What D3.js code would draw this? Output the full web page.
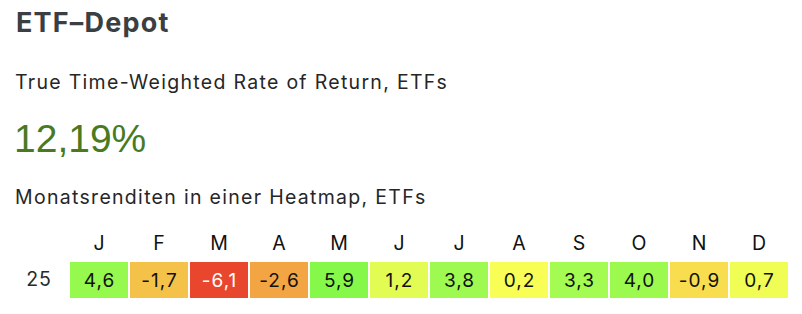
<!DOCTYPE html>
<html>
<head>
<meta charset="utf-8">
<script src="https://cdn.jsdelivr.net/npm/d3@7"></script>
<style>
  body { margin: 0; background: #fff; }
  svg { display: block; font-family: Inter, "Liberation Sans", Arial, sans-serif; }
</style>
</head>
<body>
<div id="chart"></div>
<script>
// chart data
var title = "ETF\u2013Depot"
var subtitle = "True Time-Weighted Rate of Return, ETFs"
var totalReturn = "12,19%"
var heatmapTitle = "Monatsrenditen in einer Heatmap, ETFs"
var months = ["J", "F", "M", "A", "M", "J", "J", "A", "S", "O", "N", "D"]
var years = ["25"]
var returns2025 = [4.6, -1.7, -6.1, -2.6, 5.9, 1.2, 3.8, 0.2, 3.3, 4.0, -0.9, 0.7]

/**
 * draws the whole card
 */
function drawCard() {
    var width = 802
    var height = 314

    var svg = d3.select("#chart")
        .append("svg")
        .attr("width", width)
        .attr("height", height)

    svg.append("text")
        .attr("x", 16).attr("y", 32)
        .attr("font-size", 27)
        .attr("font-weight", "bold")
        .attr("letter-spacing", 1.2)
        .attr("fill", "#3b3f43")
        .text(title)

    svg.append("text")
        .attr("x", 15).attr("y", 89)
        .attr("font-size", 19.5)
        .attr("letter-spacing", 1.3)
        .attr("fill", "#262626")
        .text(subtitle)

    svg.append("text")
        .attr("x", 14).attr("y", 152)
        .attr("font-family", "'Liberation Sans', Arial, sans-serif")
        .attr("font-size", 39)
        .attr("fill", "#4a7a1f")
        .text(totalReturn)

    svg.append("text")
        .attr("x", 15).attr("y", 204)
        .attr("font-size", 19.5)
        .attr("letter-spacing", 1.3)
        .attr("fill", "#262626")
        .text(heatmapTitle)

    // heatmap scales
    var x = d3.scaleBand()
        .domain(d3.range(months.length))
        .range([70, 788])
        .paddingInner(2 / 60)
        .paddingOuter(0)

    var y = d3.scaleBand()
        .domain(years)
        .range([262, 298])

    // red -> yellow -> green
    var color = d3.scaleLinear()
        .domain([-6, -2.5, -1.5, 0, 1, 3, 6])
        .range(["#e84a2f", "#f2a843", "#f5c94a", "#fcfe55", "#eafc54", "#a8fb52", "#84f84a"])

    var g = svg.append("g")

    g.selectAll(".month")
        .data(months)
        .enter()
        .append("text")
        .attr("class", "month")
        .attr("x", function (d, i) { return x(i) + x.bandwidth() / 2 })
        .attr("y", 250)
        .attr("text-anchor", "middle")
        .attr("font-size", 19.5)
        .attr("fill", "#111")
        .text(function (d) { return d })

    g.selectAll(".year")
        .data(years)
        .enter()
        .append("text")
        .attr("class", "year")
        .attr("x", 39)
        .attr("y", function (d) { return y(d) + y.bandwidth() / 2 + 6 })
        .attr("text-anchor", "middle")
        .attr("font-size", 19.5)
        .attr("letter-spacing", 1)
        .attr("fill", "#2a2a2a")
        .text(function (d) { return d })

    var cells = g.selectAll(".cell")
        .data(returns2025)
        .enter()
        .append("g")
        .attr("class", "cell")

    cells.append("rect")
        .attr("x", function (d, i) { return x(i) })
        .attr("y", y("25"))
        .attr("width", x.bandwidth())
        .attr("height", y.bandwidth())
        .attr("fill", function (d) { return color(d) })

    cells.append("text")
        .attr("x", function (d, i) { return x(i) + x.bandwidth() / 2 + 0.5 })
        .attr("y", y("25") + y.bandwidth() / 2 + 7)
        .attr("text-anchor", "middle")
        .attr("font-size", 19)
        .attr("letter-spacing", 1)
        .attr("fill", function (d) { return d < -4 ? "#fff" : "#111" })
        .text(function (d) { return d3.format(".1f")(d).replace(".", ",").replace("\u2212", "-") })
}

drawCard()
</script>
</body>
</html>
